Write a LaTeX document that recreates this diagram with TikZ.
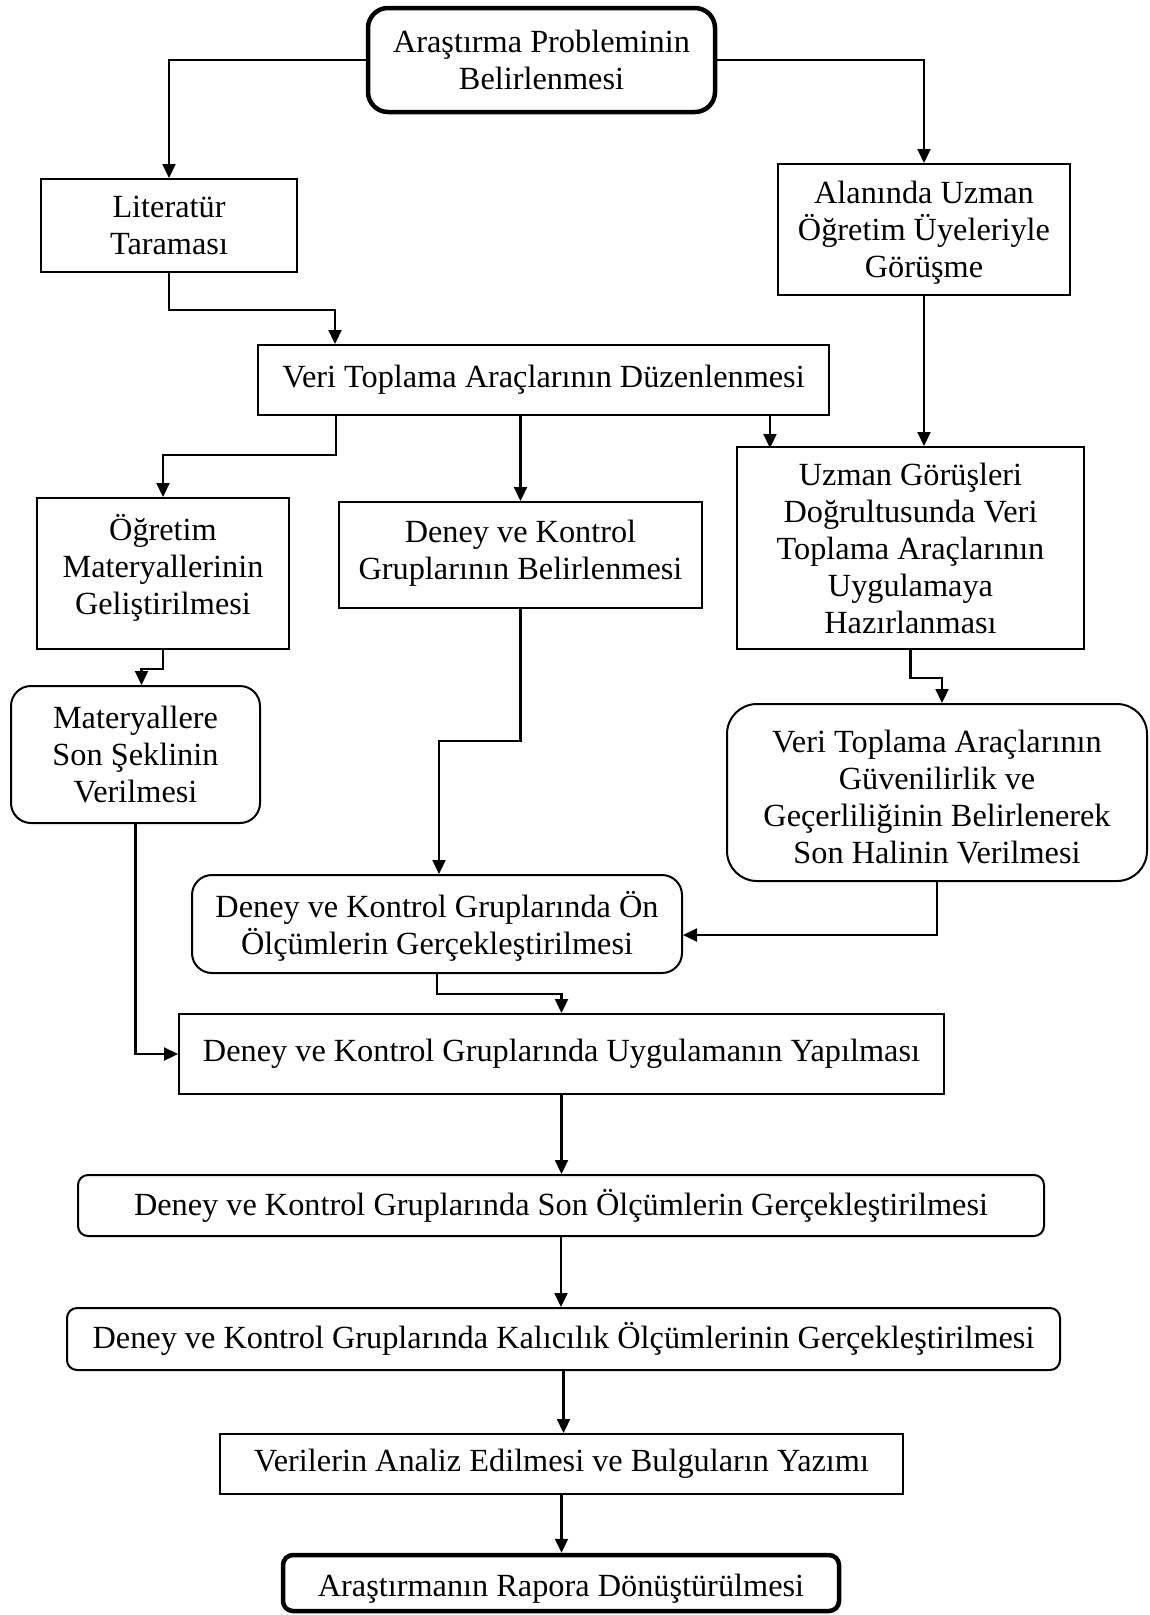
\documentclass[tikz,border=0pt]{standalone}
\usepackage{fontspec}
\setmainfont{Liberation Serif}
\usetikzlibrary{arrows.meta,calc}
\begin{document}
\begin{tikzpicture}[x=1pt,y=-1pt,
  box/.style={draw, line width=2pt, inner sep=0pt, align=center,
    font=\fontsize{32.3}{37}\selectfont},
  rbox/.style={box, rounded corners=20pt},
  tbox/.style={box, rounded corners=20pt, line width=4.5pt},
  arr/.style={line width=2.2pt, -{Triangle[length=14pt,width=13pt]}}]
\useasboundingbox (0,0) rectangle (1149,1615);

\node[tbox, minimum width=347pt, minimum height=104pt] (top) at (541.5,60) {Araştırma Probleminin\\Belirlenmesi};
\node[box, minimum width=256pt, minimum height=93pt] (lit) at (169,225.5) {Literatür\\Taraması};
\node[box, minimum width=292pt, minimum height=131pt] (alan) at (924,229.5) {\mbox{}\\[-9pt]Alanında Uzman\\Öğretim Üyeleriyle\\Görüşme};
\node[box, minimum width=571pt, minimum height=70pt] (veri) at (543.5,380) {Veri Toplama Araçlarının Düzenlenmesi};
\node[box, minimum width=252pt, minimum height=151pt] (ogr) at (163,573.5) {Öğretim\\Materyallerinin\\Geliştirilmesi\vphantom{g}\\[-18pt]};
\node[box, minimum width=363pt, minimum height=106pt] (deney) at (520.5,555) {Deney ve Kontrol\\Gruplarının Belirlenmesi\\[-27pt]};
\node[box, minimum width=347pt, minimum height=202pt] (uzman) at (910.5,548) {Uzman Görüşleri\\Doğrultusunda Veri\\Toplama Araçlarının\\Uygulamaya\\Hazırlanması};
\node[rbox, minimum width=249pt, minimum height=137pt] (mat) at (135.5,754.5) {Materyallere\\Son Şeklinin\\Verilmesi};
\node[rbox, rounded corners=30pt, minimum width=420pt, minimum height=177pt] (guv) at (937,792.5) {\mbox{}\\[-5pt]Veri Toplama Araçlarının\\Güvenilirlik ve\\Geçerliliğinin Belirlenerek\\Son Halinin Verilmesi};
\node[rbox, minimum width=490pt, minimum height=98pt] (on) at (437,924) {\mbox{}\\[-7pt]Deney ve Kontrol Gruplarında Ön\\Ölçümlerin Gerçekleştirilmesi};
\node[box, minimum width=765pt, minimum height=80pt] (uyg) at (561.5,1054) {Deney ve Kontrol Gruplarında Uygulamanın Yapılması};
\node[rbox, rounded corners=10pt, minimum width=966pt, minimum height=61pt] (son) at (561,1205.5) {Deney ve Kontrol Gruplarında Son Ölçümlerin Gerçekleştirilmesi};
\node[rbox, rounded corners=10pt, minimum width=993pt, minimum height=62pt] (kal) at (563.5,1339) {Deney ve Kontrol Gruplarında Kalıcılık Ölçümlerinin Gerçekleştirilmesi};
\node[box, minimum width=683pt, minimum height=60pt] (ver) at (561.5,1464) {Verilerin Analiz Edilmesi ve Bulguların Yazımı};
\node[tbox, rounded corners=10pt, minimum width=556pt, minimum height=56pt] (ras) at (561,1583) {\mbox{}\\[-3pt]Araştırmanın Rapora Dönüştürülmesi};

\draw[arr] (top.west) -| (lit.north);
\draw[arr] (top.east) -| (alan.north);
\draw[arr] (lit.south) -- ++(0,37) -| ($(veri.north west)+(78,0)$);
\draw[arr] (alan.south) -- (alan.south |- uzman.north);
\draw[arr] ($(veri.south west)+(79,0)$) -- ++(0,39) -| (ogr.north);
\draw[arr] (deney.north |- veri.south) -- (deney.north);
\draw[arr] ($(veri.south west)+(513,0)$) -- ++(0,32);
\draw[arr] (ogr.south) -- ++(0,19) -| ($(mat.north)+(6,0)$);
\draw[arr] (deney.south) -- ++(0,132) -| ($(on.north)+(2,0)$);
\draw[arr] (uzman.south) -- ++(0,28) -| ($(guv.north)+(5,0)$);
\draw[arr] (guv.south) |- ($(on.east)+(0,11)$);
\draw[arr] (mat.south) |- (uyg.west);
\draw[arr] (on.south) -- ++(0,20) -| (uyg.north);
\draw[arr] (uyg.south) -- (uyg.south |- son.north);
\draw[arr] (son.south) -- (son.south |- kal.north);
\draw[arr] (kal.south) -- (kal.south |- ver.north);
\draw[arr] (ver.south) -- (ver.south |- ras.north);
\end{tikzpicture}
\end{document}
